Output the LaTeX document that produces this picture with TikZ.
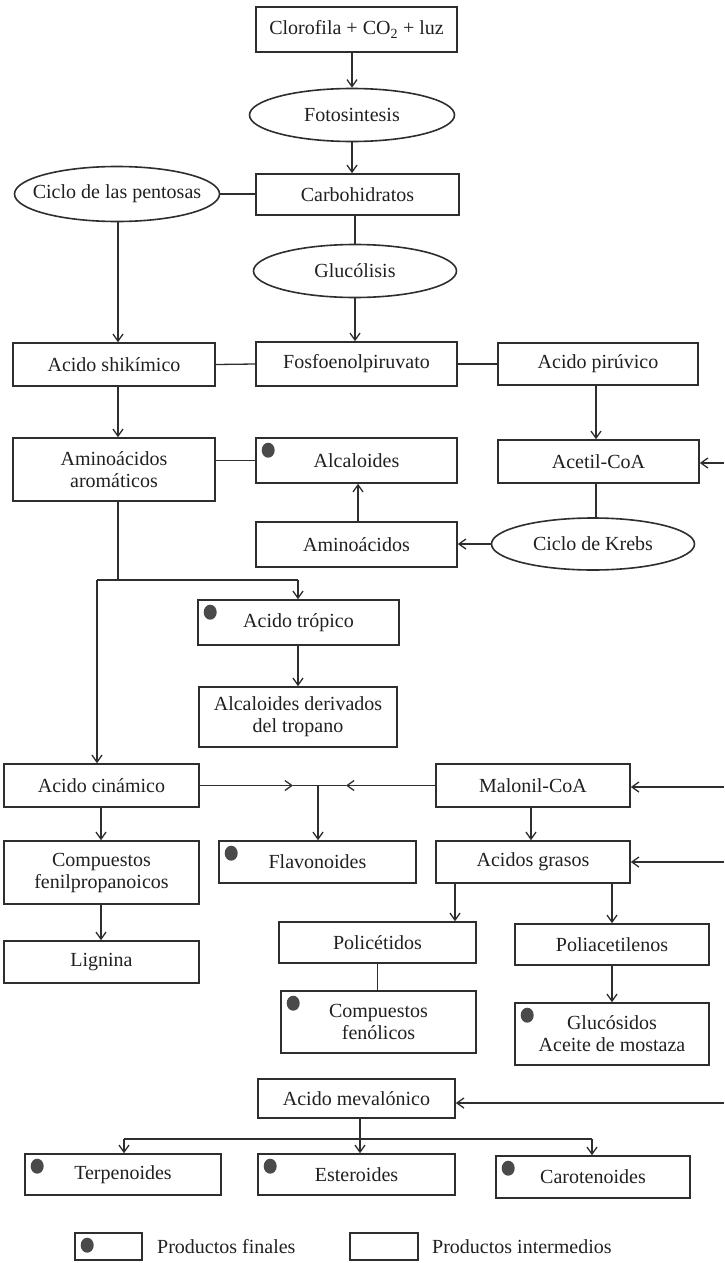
\documentclass[tikz,border=0pt]{standalone}
\usepackage{fontspec}
\setmainfont{Liberation Serif}
\usetikzlibrary{shapes.geometric,arrows.meta}
\definecolor{ln}{HTML}{2E2E2E}
\definecolor{dotc}{HTML}{4A4A4A}
\definecolor{txt}{HTML}{202020}
\newcommand{\dtxt}{\fontsize{20}{22}\selectfont}
\begin{document}
\begin{tikzpicture}[x=1pt,y=-1pt,
  box/.style={draw=ln, line width=1.6pt, rectangle, inner sep=0pt, align=center, font=\dtxt, text=txt},
  oval/.style={draw=ln, line width=1.6pt, ellipse, inner sep=0pt},
  lab/.style={font=\dtxt, text=txt, inner sep=0pt},
  con/.style={draw=ln, line width=1.3pt},
  arr/.style={con, -{Straight Barb[length=7pt,width=10pt]}},
  fin/.style={ellipse, fill=dotc, minimum width=13pt, minimum height=15pt, inner sep=0pt}]
\useasboundingbox (0,0) rectangle (724,1263);

% nodes
\node[box, minimum width=201pt, minimum height=45pt] (clo) at (356.5,29.5) {Clorofila + CO\textsubscript{2} + luz};
\node[oval, minimum width=205pt, minimum height=53pt, label={[lab]center:Fotosintesis}] (foto) at (352,115) {};
\node[oval, minimum width=205pt, minimum height=55pt, label={[lab]center:Ciclo de las pentosas}] (pent) at (117,194) {};
\node[box, minimum width=203pt, minimum height=41pt] (carb) at (357.5,194.5) {Carbohidratos};
\node[oval, minimum width=203pt, minimum height=53pt, label={[lab]center:Glucólisis}] (gluc) at (355,271) {};
\node[box, minimum width=202pt, minimum height=43pt] (shik) at (114,364.5) {Acido shikímico};
\node[box, minimum width=201pt, minimum height=44pt] (fosf) at (356.5,364) {Fosfoenolpiruvato};
\node[box, minimum width=200pt, minimum height=42pt] (piru) at (598,364) {Acido pirúvico};
\node[box, minimum width=202pt, minimum height=63pt] (arom) at (114,469.5) {Aminoácidos\\aromáticos};
\node[box, minimum width=201pt, minimum height=45pt] (alca) at (356.5,460.5) {Alcaloides};
\node[box, minimum width=201pt, minimum height=43pt] (acet) at (598.5,461.5) {Acetil-CoA};
\node[box, minimum width=201pt, minimum height=45pt] (amin) at (356.5,544.5) {Aminoácidos};
\node[oval, minimum width=203pt, minimum height=52pt, label={[lab]center:Ciclo de Krebs}] (kreb) at (593,544) {};
\node[box, minimum width=201pt, minimum height=45pt] (trop) at (298.5,622.5) {Acido trópico};
\node[box, minimum width=198pt, minimum height=60pt] (deri) at (298,717) {Alcaloides derivados\\del tropano};
\node[box, minimum width=195pt, minimum height=43pt] (cina) at (101.5,785.5) {Acido cinámico};
\node[box, minimum width=194pt, minimum height=43pt] (malo) at (533,785.5) {Malonil-CoA};
\node[box, minimum width=195pt, minimum height=63pt] (feni) at (101.5,872.5) {Compuestos\\fenilpropanoicos};
\node[box, minimum width=197pt, minimum height=42pt] (flav) at (317.5,862) {Flavonoides};
\node[box, minimum width=194pt, minimum height=42pt] (gras) at (533,862) {Acidos grasos};
\node[box, minimum width=195pt, minimum height=42pt] (lign) at (101.5,962) {Lignina};
\node[box, minimum width=197pt, minimum height=41pt] (poli) at (377.5,942.5) {Policétidos};
\node[box, minimum width=194pt, minimum height=41pt] (pola) at (612,944.5) {Poliacetilenos};
\node[box, minimum width=195pt, minimum height=62pt] (feno) at (378.5,1022) {Compuestos\\fenólicos};
\node[box, minimum width=194pt, minimum height=62pt] (gluo) at (612,1034) {Glucósidos\\Aceite de mostaza};
\node[box, minimum width=197pt, minimum height=39pt] (meva) at (356.5,1098.5) {Acido mevalónico};
\node[box, minimum width=196pt, minimum height=41pt] (terp) at (123,1174.5) {Terpenoides};
\node[box, minimum width=197pt, minimum height=41pt] (este) at (356.5,1174.5) {Esteroides};
\node[box, minimum width=194pt, minimum height=42pt] (caro) at (593,1177) {Carotenoides};

% legend
\node[box, minimum width=67pt, minimum height=27pt] (lg1) at (108.5,1246.5) {};
\node[box, minimum width=68pt, minimum height=27pt] (lg2) at (384,1246.5) {};
\node[lab, anchor=west] (lt1) at (157,1247) {Productos finales};
\node[lab, anchor=west] (lt2) at (432,1247) {Productos intermedios};

% end-product dots
\foreach \n in {alca,trop,flav,feno,gluo,terp,este,caro,lg1}
  \node[fin] (d\n) at ([xshift=13pt,yshift=-13pt]\n.north west) {};

% free ends at the right edge
\coordinate (eA) at (724,463);
\coordinate (eM) at (724,787);
\coordinate (eG) at (724,862);
\coordinate (eV) at (724,1103);

% connectors
\draw[arr] (clo.south -| foto.north) -- (foto.north);
\draw[arr] (foto.south) -- (foto.south |- carb.north);
\draw[con] (pent.east) -- (pent.east -| carb.west);
\draw[con] (gluc.north |- carb.south) -- (gluc.north);
\coordinate (pa) at (118,194);
\draw[arr] (pa |- pent.south) -- (pa |- shik.north);
\draw[arr] (gluc.south) -- (gluc.south |- fosf.north);
\draw[con] (shik.east) -- (fosf.west);
\draw[con] (fosf.east) -- (piru.west);
\draw[arr] (pa |- shik.south) -- (pa |- arom.north);
\draw[con] (alca.west -| arom.east) -- (alca.west);
\coordinate (ca) at (596,400);
\draw[arr] (ca |- piru.south) -- (ca |- acet.north);
\draw[con] (ca |- acet.south) -- (ca |- kreb.north);
\draw[arr] (eA) -- (eA -| acet.east);
\draw[arr] (kreb.west) -- (kreb.west -| amin.east);
\coordinate (am) at (358,500);
\draw[arr] (am |- amin.north) -- (am |- alca.south);

% aromatic branch
\coordinate (aj) at (118,580);
\coordinate (bl) at (97,580);
\coordinate (br) at (298,580);
\draw[con] (aj |- arom.south) -- (aj);
\draw[con] (bl) -- (br);
\draw[arr] (br) -- (br |- trop.north);
\draw[arr] (br |- trop.south) -- (br |- deri.north);
\draw[arr] (bl) -- (bl |- cina.north);

% cinamico / malonil junction
\coordinate (J) at (318,785.5);
\coordinate (ma) at (293,785.5);
\coordinate (mb) at (346,785.5);
\draw[arr] (cina.east) -- (ma);
\draw[con] (ma) -- (J);
\draw[arr] (malo.west) -- (mb);
\draw[con] (mb) -- (J);
\draw[arr] (J) -- (J |- flav.north);
\draw[arr] (eM) -- (eM -| malo.east);
\coordinate (mg) at (531,800);
\draw[arr] (mg |- malo.south) -- (mg |- gras.north);
\draw[arr] (eG) -- (gras.east);

\coordinate (cx) at (101,800);
\draw[arr] (cx |- cina.south) -- (cx |- feni.north);
\draw[arr] (cx |- feni.south) -- (cx |- lign.north);

\coordinate (g1) at (455,900);
\draw[arr] (g1 |- gras.south) -- (g1 |- poli.north);
\draw[arr] (pola.north |- gras.south) -- (pola.north);
\draw[con] (poli.south) -- (poli.south |- feno.north);
\draw[arr] (pola.south) -- (pola.south |- gluo.north);

\draw[arr] (eV) -- (eV -| meva.east);
\coordinate (t1) at (124,1139);
\coordinate (t2) at (592,1139);
\coordinate (tm) at (360,1139);
\draw[arr] (tm |- meva.south) -- (tm |- este.north);
\draw[con] (t1) -- (t2);
\draw[arr] (t1) -- (t1 |- terp.north);
\draw[arr] (t2) -- (t2 |- caro.north);
\end{tikzpicture}
\end{document}
